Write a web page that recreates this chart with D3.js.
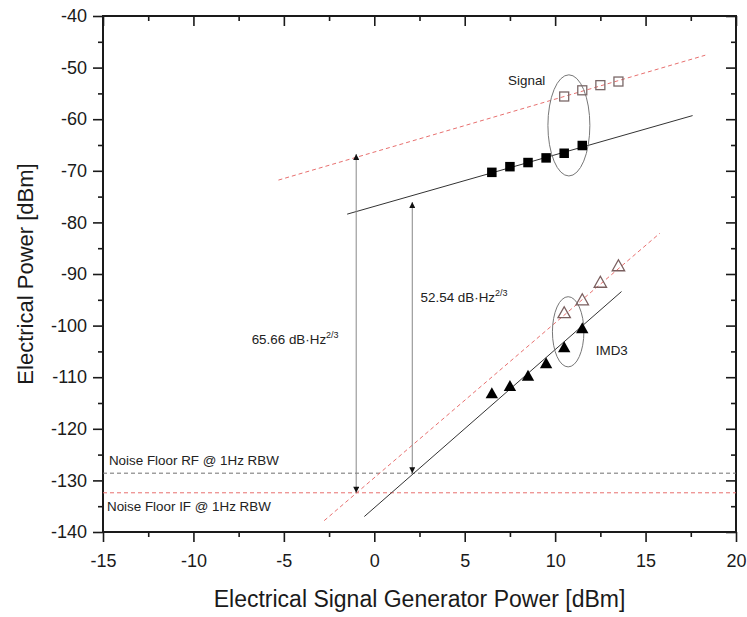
<!DOCTYPE html>
<html>
<head>
<meta charset="utf-8">
<script src="https://cdn.jsdelivr.net/npm/d3@7"></script>
<style>
  html, body { margin: 0; padding: 0; background: #fff; }
  svg { display: block; font-family: "Liberation Sans", Arial, Helvetica, sans-serif; }
</style>
</head>
<body>
<svg id="chart" width="747" height="617"></svg>
<script>
// Generator power settings (dBm) for the measured points
const genPowerIF = [6.5, 7.5, 8.5, 9.5, 10.5, 11.5];
const genPowerRF = [10.5, 11.5, 12.5, 13.5];

// Measured fundamental (signal) power, dBm
const signalIF = [-70.3, -69.2, -68.4, -67.5, -66.6, -65.1];
const signalRF = [-55.6, -54.4, -53.4, -52.7];

// Measured third-order intermodulation power, dBm
const imd3IF = [-113.1, -111.7, -109.7, -107.3, -104.2, -100.5];
const imd3RF = [-97.5, -95.0, -91.6, -88.4];

// Fitted slope-1 and slope-3 lines (generator power, output power)
const signalIFFit = [[-1.5, -78.4], [17.6, -59.3]];
const signalRFFit = [[-5.3, -71.8], [18.3, -47.6]];
const imd3IFFit = [[-0.55, -137.0], [13.67, -93.4]];
const imd3RFFit = [[-2.77, -137.8], [15.79, -82.1]];

// Noise floors at 1 Hz resolution bandwidth, dBm
const noiseFloorRF = -128.6;
const noiseFloorIF = -132.4;

// Spurious-free dynamic range values, dB·Hz^(2/3)
const sfdrIF = 65.66;
const sfdrRF = 52.54;
const sfdrIFAt = -1.0;
const sfdrRFAt = 2.1;

// Axis ranges and ticks
const xDomain = [-15, 20];
const yDomain = [-140, -40];
const xTicks = [-15, -10, -5, 0, 5, 10, 15, 20];
const yTicks = [-140, -130, -120, -110, -100, -90, -80, -70, -60, -50, -40];

const xTitle = "Electrical Signal Generator Power [dBm]";
const yTitle = "Electrical Power [dBm]";

// ---------------------------------------------------------------------
const W = 747, H = 617;
const margin = { top: 16, right: 11, bottom: 85, left: 103 };
const svg = d3.select("#chart");

const x = d3.scaleLinear().domain(xDomain).range([margin.left, W - margin.right]);
const y = d3.scaleLinear().domain(yDomain).range([H - margin.bottom, margin.top]);

const ink = "#1a1a1a";
const red = "#e8706f";
const gray = "#6f6f6f";

const xMinor = d3.range(xDomain[0] + 2.5, xDomain[1], 5);
const yMinor = d3.range(yDomain[0] + 5, yDomain[1], 10);
const fmt = d => String(d);

// Axes: labelled outward ticks on bottom/left, inward ticks on top/right
function styleAxis(g, fontSize) {
  g.select(".domain").remove();
  g.selectAll(".tick line").attr("stroke", ink).attr("stroke-width", 1.6);
  g.selectAll(".tick text")
    .attr("fill", ink)
    .style("font-size", fontSize + "px")
    .style("font-family", "'Liberation Sans', Arial, sans-serif");
}

svg.append("g").attr("transform", `translate(0,${y(yDomain[0])})`)
  .call(d3.axisBottom(x).tickValues(xTicks).tickFormat(fmt).tickSize(10).tickPadding(12))
  .call(g => styleAxis(g, 18));
svg.append("g").attr("transform", `translate(0,${y(yDomain[0])})`)
  .call(d3.axisBottom(x).tickValues(xMinor).tickFormat("").tickSize(5))
  .call(g => styleAxis(g, 18));

svg.append("g").attr("transform", `translate(${x(xDomain[0])},0)`)
  .call(d3.axisLeft(y).tickValues(yTicks).tickFormat(fmt).tickSize(10).tickPadding(6))
  .call(g => styleAxis(g, 18));
svg.append("g").attr("transform", `translate(${x(xDomain[0])},0)`)
  .call(d3.axisLeft(y).tickValues(yMinor).tickFormat("").tickSize(5))
  .call(g => styleAxis(g, 18));

svg.append("g").attr("transform", `translate(0,${y(yDomain[1])})`)
  .call(d3.axisTop(x).tickValues(xTicks).tickFormat("").tickSize(-10))
  .call(g => styleAxis(g, 18));
svg.append("g").attr("transform", `translate(0,${y(yDomain[1])})`)
  .call(d3.axisTop(x).tickValues(xMinor).tickFormat("").tickSize(-5))
  .call(g => styleAxis(g, 18));

svg.append("g").attr("transform", `translate(${x(xDomain[1])},0)`)
  .call(d3.axisRight(y).tickValues(yTicks).tickFormat("").tickSize(-10))
  .call(g => styleAxis(g, 18));
svg.append("g").attr("transform", `translate(${x(xDomain[1])},0)`)
  .call(d3.axisRight(y).tickValues(yMinor).tickFormat("").tickSize(-5))
  .call(g => styleAxis(g, 18));

// Plot frame
svg.append("rect")
  .attr("x", x(xDomain[0])).attr("y", y(yDomain[1]))
  .attr("width", x(xDomain[1]) - x(xDomain[0]))
  .attr("height", y(yDomain[0]) - y(yDomain[1]))
  .attr("fill", "none").attr("stroke", ink).attr("stroke-width", 2);

// Axis titles
svg.append("text")
  .attr("x", (x(xDomain[0]) + x(xDomain[1])) / 2).attr("y", 607)
  .attr("text-anchor", "middle").attr("fill", ink)
  .style("font-size", "23px").text(xTitle);
svg.append("text")
  .attr("transform", `translate(33,${(y(yDomain[0]) + y(yDomain[1])) / 2}) rotate(-90)`)
  .attr("text-anchor", "middle").attr("fill", ink)
  .style("font-size", "22px").text(yTitle);

const plot = svg.append("g");

// Noise floors
[[noiseFloorRF, gray], [noiseFloorIF, red]].forEach(([v, c]) => {
  plot.append("line")
    .attr("x1", x(xDomain[0])).attr("x2", x(xDomain[1]))
    .attr("y1", y(v)).attr("y2", y(v))
    .attr("stroke", c).attr("stroke-width", 1).attr("stroke-dasharray", "4,3");
});

// Fit lines
const line = d3.line().x(d => x(d[0])).y(d => y(d[1]));
[[signalRFFit, red, "4,3"], [imd3RFFit, red, "4,3"],
 [signalIFFit, "#333", null], [imd3IFFit, "#333", null]].forEach(([pts, c, dash]) => {
  plot.append("path").attr("d", line(pts))
    .attr("fill", "none").attr("stroke", c).attr("stroke-width", 1)
    .attr("stroke-dasharray", dash);
});

// Grouping ellipses
[[10.76, -61.2, 1.16, 9.8], [10.72, -101.2, 0.87, 6.8]].forEach(([cx, cy, rx, ry]) => {
  plot.append("ellipse")
    .attr("cx", x(cx)).attr("cy", y(cy))
    .attr("rx", x(cx + rx) - x(cx)).attr("ry", y(cy - ry) - y(cy))
    .attr("fill", "none").attr("stroke", "#777").attr("stroke-width", 1);
});

// Dynamic-range arrows
svg.append("defs").append("marker")
  .attr("id", "head").attr("viewBox", "0 0 10 10")
  .attr("refX", 10).attr("refY", 5)
  .attr("markerWidth", 7).attr("markerHeight", 6)
  .attr("markerUnits", "userSpaceOnUse")
  .attr("orient", "auto-start-reverse")
  .append("path").attr("d", "M0,0 L10,5 L0,10 Z").attr("fill", "#111");

[[sfdrIFAt, noiseFloorIF, sfdrIF], [sfdrRFAt, noiseFloorRF, sfdrRF]].forEach(([px, floor, v]) => {
  plot.append("line")
    .attr("x1", x(px)).attr("x2", x(px))
    .attr("y1", y(floor)).attr("y2", y(floor + v))
    .attr("stroke", "#888").attr("stroke-width", 1)
    .attr("marker-start", "url(#head)").attr("marker-end", "url(#head)");
});

// Markers
const sq = 9.5;
plot.selectAll(".sqF").data(genPowerIF.map((g, i) => [g, signalIF[i]])).join("rect")
  .attr("x", d => x(d[0]) - sq / 2).attr("y", d => y(d[1]) - sq / 2)
  .attr("width", sq).attr("height", sq).attr("fill", "#000");
plot.selectAll(".sqO").data(genPowerRF.map((g, i) => [g, signalRF[i]])).join("rect")
  .attr("x", d => x(d[0]) - 4.5).attr("y", d => y(d[1]) - 4.5)
  .attr("width", 9).attr("height", 9)
  .attr("fill", "none").attr("stroke", "#7a6868").attr("stroke-width", 1.3);

const tri = "M0,-6 L6.2,5 L-6.2,5 Z";
plot.selectAll(".triF").data(genPowerIF.map((g, i) => [g, imd3IF[i]])).join("path")
  .attr("transform", d => `translate(${x(d[0])},${y(d[1])})`)
  .attr("d", tri).attr("fill", "#000");
plot.selectAll(".triO").data(genPowerRF.map((g, i) => [g, imd3RF[i]])).join("path")
  .attr("transform", d => `translate(${x(d[0])},${y(d[1])})`)
  .attr("d", tri).attr("fill", "none").attr("stroke", "#7a5f5f").attr("stroke-width", 1.3);

// Annotations
function note(gx, gy, txt, sup) {
  const t = svg.append("text").attr("x", x(gx)).attr("y", y(gy))
    .attr("fill", "#222").style("font-size", "13.4px");
  t.append("tspan").text(txt);
  if (sup) t.append("tspan").attr("dy", -6).style("font-size", "9px").text(sup);
}
note(7.4, -53.4, "Signal");
note(12.25, -105.7, "IMD3");
note(-6.78, -103.6, "65.66 dB·Hz", "2/3");
note(2.56, -95.4, "52.54 dB·Hz", "2/3");
note(-14.67, -127.0, "Noise Floor RF @ 1Hz RBW");
note(-14.78, -135.9, "Noise Floor IF @ 1Hz RBW");
</script>
</body>
</html>
